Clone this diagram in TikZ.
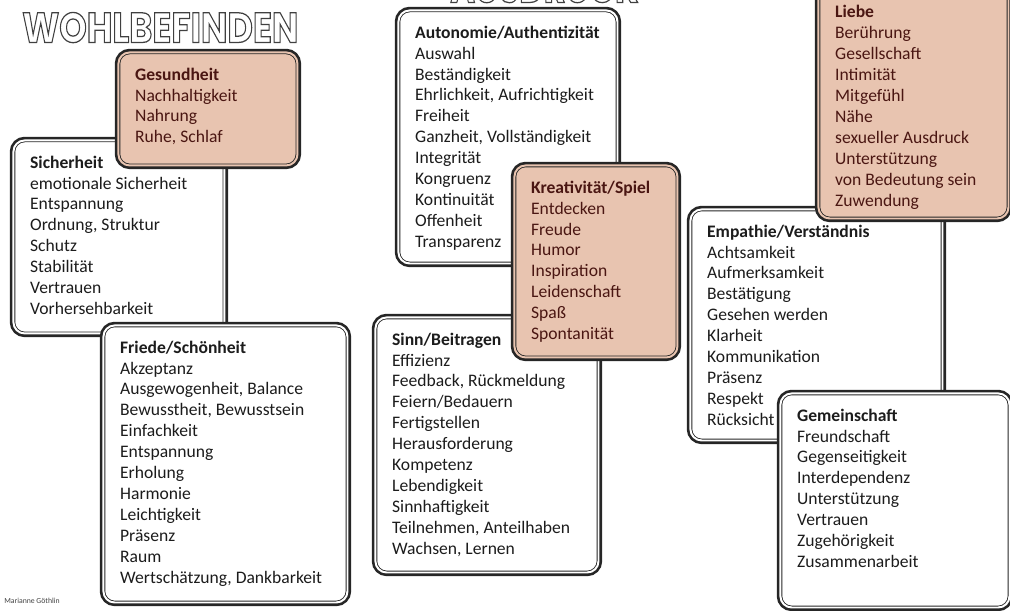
\documentclass[tikz,border=0pt]{standalone}
\usepackage{fontspec}
\setmainfont{Carlito}
\newfontfamily\titlefont{Poppins}
\usetikzlibrary{positioning}
\definecolor{peach}{RGB}{232,196,176}
\definecolor{peachtext}{RGB}{74,22,18}
\definecolor{inktext}{RGB}{28,28,28}
\newcommand\outlined[1]{\special{pdf:literal direct 1 Tr 0.3 w}#1\special{pdf:literal direct 0 Tr}}

\begin{document}
\begin{tikzpicture}[x=0.025cm, y=-0.025cm,
        needbox/.style={rectangle, draw=black!85, fill=white, line width=0.6pt, double=white, double distance=1.4pt,
            preaction={draw=black!85, line width=5.2pt}, rounded corners=8pt, anchor=north west, inner sep=0pt},
        warmbox/.style={needbox, fill=peach, double=peach},
        needlist/.style={align=left, inner sep=0pt, text=inktext, font=\fontsize{12.5}{14.9}\selectfont},
        warmlist/.style={needlist, text=peachtext},
        heading/.style={inner sep=0pt, text=black!75},
        node distance=11pt and 12pt
        ]
        \useasboundingbox (0,0) rectangle (1010,610);

        % Titles
        \node (wohl) [heading, anchor=south west] at (22,43) {\resizebox{6.9cm}{0.75cm}{\titlefont\bfseries\outlined{WOHLBEFINDEN}}};
        \node (ausdruck) [heading, anchor=south west] at (450,3) {\resizebox{4.7cm}{0.75cm}{\titlefont\bfseries\outlined{AUSDRUCK}}};

        % Left column
        \node (sich) [needbox, minimum width=5.275cm, minimum height=4.825cm] at (13,140) {};
        \node (sich-t) [needlist, below right=of sich.north west] {\textbf{Sicherheit}\\emotionale Sicherheit\\Entspannung\\Ordnung, Struktur\\Schutz\\Stabilität\\Vertrauen\\Vorhersehbarkeit};
        \node (gesund) [warmbox, minimum width=4.475cm, minimum height=2.825cm] at (118,52) {};
        \node (gesund-t) [warmlist, below right=of gesund.north west] {\textbf{Gesundheit}\\Nachhaltigkeit\\Nahrung\\Ruhe, Schlaf};
        \node (friede) [needbox, minimum width=6.1cm, minimum height=6.925cm] at (103,325) {};
        \node (friede-t) [needlist, below right=of friede.north west] {\textbf{Friede/Schönheit}\\Akzeptanz\\Ausgewogenheit, Balance\\Bewusstheit, Bewusstsein\\Einfachkeit\\Entspannung\\Erholung\\Harmonie\\Leichtigkeit\\Präsenz\\Raum\\Wertschätzung, Dankbarkeit};

        % Middle column
        \node (auto) [needbox, minimum width=5.475cm, minimum height=6.325cm] at (398,10) {};
        \node (auto-t) [needlist, below right=of auto.north west] {\textbf{Autonomie/Authentizität}\\Auswahl\\Beständigkeit\\Ehrlichkeit, Aufrichtigkeit\\Freiheit\\Ganzheit, Vollständigkeit\\Integrität\\Kongruenz\\Kontinuität\\Offenheit\\Transparenz};
        \node (sinn) [needbox, minimum width=5.575cm, minimum height=6.375cm] at (375,317) {};
        \node (sinn-t) [needlist, below right=of sinn.north west] {\textbf{Sinn/Beitragen}\\Effizienz\\Feedback, Rückmeldung\\Feiern/Bedauern\\Fertigstellen\\Herausforderung\\Kompetenz\\Lebendigkeit\\Sinnhaftigkeit\\Teilnehmen, Anteilhaben\\Wachsen, Lernen};
        \node (krea) [warmbox, minimum width=4.075cm, minimum height=4.8cm] at (514,165) {};
        \node (krea-t) [warmlist, below right=of krea.north west] {\textbf{Kreativität/Spiel}\\Entdecken\\Freude\\Humor\\Inspiration\\Leidenschaft\\Spaß\\Spontanität};

        % Right column
        \node (emp) [needbox, minimum width=6.3cm, minimum height=5.775cm] at (690,209) {};
        \node (emp-t) [needlist, below right=of emp.north west] {\textbf{Empathie/Verständnis}\\Achtsamkeit\\Aufmerksamkeit\\Bestätigung\\Gesehen werden\\Klarheit\\Kommunikation\\Präsenz\\Respekt\\Rücksicht};
        \node (liebe) [warmbox, minimum width=4.75cm, minimum height=6.2cm] at (818,-30) {};
        \node (liebe-t) [warmlist, below right=25pt and 12pt of liebe.north west] {\textbf{Liebe}\\Berührung\\Gesellschaft\\Intimität\\Mitgefühl\\Nähe\\sexueller Ausdruck\\Unterstützung\\von Bedeutung sein\\Zuwendung};
        \node (gem) [needbox, minimum width=5.725cm, minimum height=5.35cm] at (780,393) {};
        \node (gem-t) [needlist, below right=of gem.north west] {\textbf{Gemeinschaft}\\Freundschaft\\Gegenseitigkeit\\Interdependenz\\Unterstützung\\Vertrauen\\Zugehörigkeit\\Zusammenarbeit};

        % Source
        \node (autor) [heading, anchor=west, font=\fontsize{5.5}{6}\selectfont] at (4,601) {Marianne Göthlin};

    \end{tikzpicture}
\end{document}
